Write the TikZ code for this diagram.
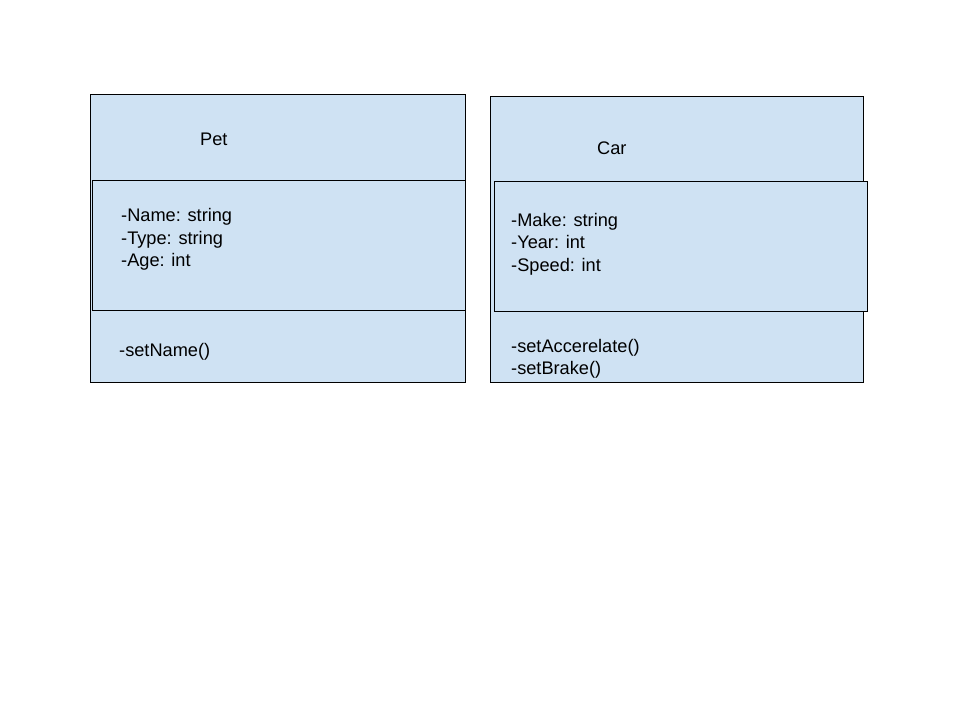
\documentclass[tikz,border=0pt]{standalone}
\usepackage{fontspec}
\setmainfont{Liberation Sans}
\definecolor{boxblue}{HTML}{CFE2F3}
\begin{document}
\begin{tikzpicture}[x=1pt,y=-1pt,
  box/.style={draw=black, fill=boxblue, line width=0.9pt, rectangle, inner sep=0pt, anchor=north west},
  txt/.style={inner sep=0pt, anchor=west, align=left, font=\fontsize{18.2pt}{22.3pt}\selectfont}]
\useasboundingbox (0,0) rectangle (960,720);
\fill[white] (0,0) rectangle (960,720);
% Pet
\node[box, minimum width=375pt, minimum height=288pt] (petouter) at (90,94) {};
\node[box, minimum width=373pt, minimum height=130pt] (petinner) at (92,180) {};
\node[txt] (pettitle) at (200,139.5) {Pet};
\node[txt] (petattr) at (121,239.5) {-Name: string\\-Type: string\\-Age: int};
\node[txt] (petops) at (119,351.5) {-setName()};
% Car
\node[box, minimum width=373pt, minimum height=286pt] (carouter) at (490,96) {};
\node[box, minimum width=373pt, minimum height=130pt] (carinner) at (494,181) {};
\node[txt] (cartitle) at (597,148.5) {Car};
\node[txt] (carattr) at (511,244) {-Make: string\\-Year: int\\-Speed: int};
\node[txt] (carops) at (511,358.5) {-setAccerelate()\\-setBrake()};
\end{tikzpicture}
\end{document}
